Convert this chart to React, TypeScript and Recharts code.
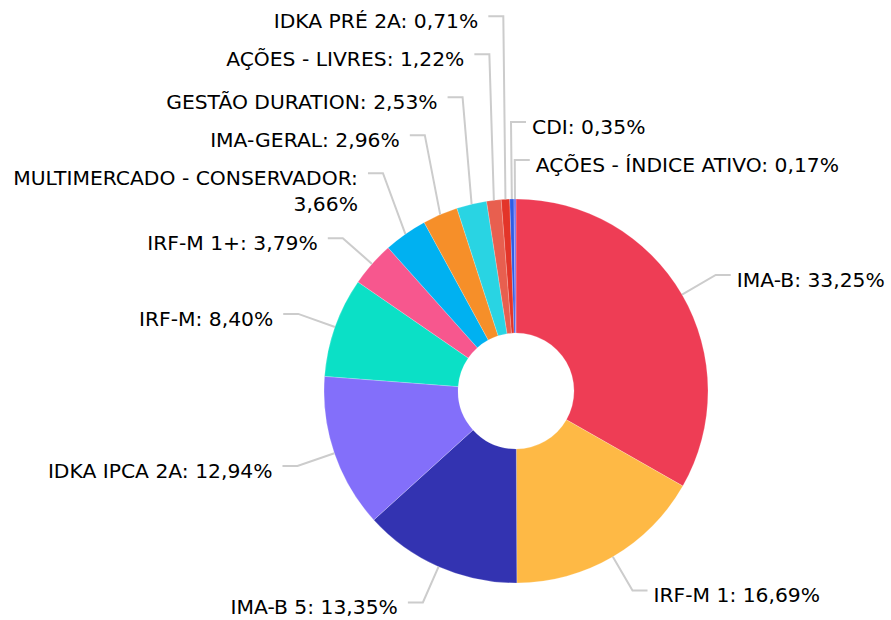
import React from 'react';
import { PieChart, Pie, Cell } from 'recharts';

const categories = [
  'IMA-B',
  'IRF-M 1',
  'IMA-B 5',
  'IDKA IPCA 2A',
  'IRF-M',
  'IRF-M 1+',
  'MULTIMERCADO - CONSERVADOR',
  'IMA-GERAL',
  'GESTÃO DURATION',
  'AÇÕES - LIVRES',
  'IDKA PRÉ 2A',
  'CDI',
  'AÇÕES - ÍNDICE ATIVO',
];

const shares = [33.25, 16.69, 13.35, 12.94, 8.4, 3.79, 3.66, 2.96, 2.53, 1.22, 0.71, 0.35, 0.17];

const sliceColors = [
  '#EE3D55',
  '#FEB945',
  '#3333B1',
  '#836FFA',
  '#0BE0C6',
  '#F7578E',
  '#00B1F1',
  '#F68F29',
  '#29D4E3',
  '#E85F4F',
  '#E33529',
  '#2E5CE5',
  '#7070F2',
];

const data = categories.map((name, i) => ({ name, value: shares[i] }));

const W = 891;
const H = 620;
const CX = 516;
const CY = 391;
const R_OUT = 192;
const R_IN = 58;
const ELBOW = 39; // radial distance of line elbow beyond the slice
const HSEG = 15; // horizontal segment length
const FONT = 20.3;
const LINE_H = 25.7;
const BASE_GAP = 38; // vertical space taken by a single-line label
const WRAP_AT = 30;

const fmt = (v: number) => v.toFixed(2).replace('.', ',') + '%';

const labelLines = (name: string, value: number): string[] => {
  const full = `${name}: ${fmt(value)}`;
  if (full.length > WRAP_AT) return [`${name}:`, fmt(value)];
  return [full];
};

// Collision-avoiding vertical layout of the labels (computed from the data, like the pie itself)
const layout = (() => {
  const total = shares.reduce((a, b) => a + b, 0);
  let cum = 0;
  const items = shares.map((v, i) => {
    const theta = ((cum + v / 2) / total) * 360; // clockwise from top
    cum += v;
    const rad = (theta * Math.PI) / 180;
    const ex = CX + (R_OUT + ELBOW) * Math.sin(rad);
    const ey = CY - (R_OUT + ELBOW) * Math.cos(rad);
    const right = ex >= CX - 8;
    const lines = labelLines(categories[i], v);
    const h = BASE_GAP + (lines.length - 1) * 27 + (categories[i].includes('Ç') ? 5 : 0);
    return { i, theta, ey, right, h, y: ey };
  });
  const rightSide = items
    .filter((d) => d.right)
    .sort((a, b) => {
      const pa = a.theta > 180 ? a.theta - 360 : a.theta;
      const pb = b.theta > 180 ? b.theta - 360 : b.theta;
      return pb - pa;
    });
  const leftSide = items.filter((d) => !d.right).sort((a, b) => a.theta - b.theta);
  [rightSide, leftSide].forEach((side) => {
    let prev = Infinity;
    side.forEach((d) => {
      d.y = Math.min(d.ey, prev - d.h);
      prev = d.y;
    });
  });
  const out: Record<number, { y: number; right: boolean }> = {};
  items.forEach((d) => (out[d.i] = { y: d.y, right: d.right }));
  return out;
})();

const RADIAN = Math.PI / 180;

const renderLabel = (props: any) => {
  const { cx, cy, midAngle, outerRadius, index, name, value } = props;
  const cos = Math.cos(-midAngle * RADIAN);
  const sin = Math.sin(-midAngle * RADIAN);
  const sx = cx + outerRadius * cos;
  const sy = cy + outerRadius * sin;
  const ex = cx + (outerRadius + ELBOW) * cos;
  const info = layout[index];
  const ly = info.y;
  const right = info.right;
  const hx = ex + (right ? HSEG : -HSEG);
  const tx = hx + (right ? 6 : -10);
  const lines = labelLines(name, value);
  return (
    <g key={`lbl-${index}`}>
      <polyline
        points={`${sx},${sy} ${ex},${ly} ${hx},${ly}`}
        fill="none"
        stroke="#CCCCCC"
        strokeWidth={2}
      />
      <text
        x={tx}
        y={ly + 12}
        textAnchor={right ? 'start' : 'end'}
        fontFamily="'DejaVu Sans', Verdana, sans-serif"
        fontSize={FONT}
        fill="#000000"
      >
        {lines.map((t, k) => (
          <tspan key={k} x={tx} dy={k === 0 ? 0 : LINE_H}>
            {t}
          </tspan>
        ))}
      </text>
    </g>
  );
};

export default function App() {
  return (
    <div style={{ position: 'absolute', left: 0, top: 0, width: W, height: H, background: '#ffffff' }}>
      <PieChart width={W} height={H} margin={{ top: 0, right: 0, bottom: 0, left: 0 }}>
        <Pie
          data={data}
          dataKey="value"
          nameKey="name"
          cx={CX}
          cy={CY}
          innerRadius={R_IN}
          outerRadius={R_OUT}
          startAngle={90}
          endAngle={-270}
          label={renderLabel}
          labelLine={false}
          isAnimationActive={false}
          stroke="#ffffff"
          strokeWidth={0.5}
          strokeOpacity={0.4}
        >
          {data.map((d, i) => (
            <Cell key={d.name} fill={sliceColors[i]} />
          ))}
        </Pie>
      </PieChart>
    </div>
  );
}
